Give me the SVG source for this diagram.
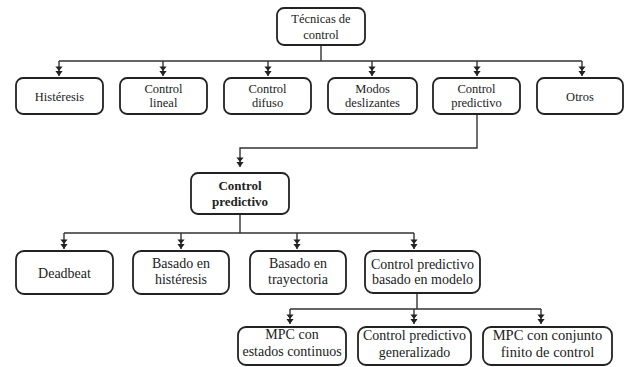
<svg xmlns="http://www.w3.org/2000/svg" width="626" height="367" viewBox="0 0 626 367">
<style>
.box{fill:#fff;stroke:#222;stroke-width:1.8}
.ln{fill:none;stroke:#333;stroke-width:1.4}
text{font-family:"Liberation Serif","DejaVu Serif",serif;fill:#222;text-anchor:middle}
.t1{font-size:12.5px}
.t2{font-size:13px;font-weight:bold}
.t3{font-size:14px}
.t4{font-size:14.5px}
</style>
<defs>
<marker id="ah" viewBox="-10 -5 11 10" refX="0" refY="0" markerWidth="11" markerHeight="10" markerUnits="userSpaceOnUse" orient="auto">
<path d="M-9.5,-3.6 L-5,0 L-9.5,3.6 Z M-5,-3.6 L0,0 L-5,3.6 Z" fill="#222"/>
</marker>
</defs>
<rect width="626" height="367" fill="#fff"/>
<g id="connectors">
<path class="ln" d="M321,45 V61 M59,61 H582"/>
<path class="ln" marker-end="url(#ah)" d="M59,61 V76"/>
<path class="ln" marker-end="url(#ah)" d="M163,61 V76"/>
<path class="ln" marker-end="url(#ah)" d="M268,61 V76"/>
<path class="ln" marker-end="url(#ah)" d="M372,61 V76"/>
<path class="ln" marker-end="url(#ah)" d="M477,61 V76"/>
<path class="ln" marker-end="url(#ah)" d="M582,61 V76"/>
<path class="ln" marker-end="url(#ah)" d="M477,114 V148 H240 V167"/>
<path class="ln" d="M240,214 V233 M64,233 H414"/>
<path class="ln" marker-end="url(#ah)" d="M64,233 V249"/>
<path class="ln" marker-end="url(#ah)" d="M181,233 V249"/>
<path class="ln" marker-end="url(#ah)" d="M297,233 V249"/>
<path class="ln" marker-end="url(#ah)" d="M414,233 V249"/>
<path class="ln" d="M417,293 V309 M290,309 H541"/>
<path class="ln" marker-end="url(#ah)" d="M290,309 V324"/>
<path class="ln" marker-end="url(#ah)" d="M414,309 V324"/>
<path class="ln" marker-end="url(#ah)" d="M541,309 V324"/>
</g>
<g id="root">
<rect class="box" x="277" y="8" width="88" height="37" rx="7"/>
<text class="t1" x="321" y="23">Técnicas de</text>
<text class="t1" x="321" y="39">control</text>
</g>
<g id="histeresis">
<rect class="box" x="16" y="78" width="87" height="36" rx="7"/>
<text class="t1" x="59.5" y="100.5">Histéresis</text>
</g>
<g id="control-lineal">
<rect class="box" x="120" y="78" width="87" height="36" rx="7"/>
<text class="t1" x="163.5" y="93">Control</text>
<text class="t1" x="163.5" y="107">lineal</text>
</g>
<g id="control-difuso">
<rect class="box" x="224" y="78" width="87" height="36" rx="7"/>
<text class="t1" x="267.5" y="93">Control</text>
<text class="t1" x="267.5" y="107">difuso</text>
</g>
<g id="modos-deslizantes">
<rect class="box" x="328" y="78" width="89" height="36" rx="7"/>
<text class="t1" x="372.5" y="93">Modos</text>
<text class="t1" x="372.5" y="107">deslizantes</text>
</g>
<g id="control-predictivo-1">
<rect class="box" x="433" y="78" width="87" height="36" rx="7"/>
<text class="t1" x="476.5" y="93">Control</text>
<text class="t1" x="476.5" y="107">predictivo</text>
</g>
<g id="otros">
<rect class="box" x="537" y="78" width="86" height="36" rx="7"/>
<text class="t1" x="580" y="100.5">Otros</text>
</g>
<g id="control-predictivo-2">
<rect class="box" x="191" y="173" width="98" height="41" rx="7"/>
<text class="t2" x="240" y="190">Control</text>
<text class="t2" x="240" y="206">predictivo</text>
</g>
<g id="deadbeat">
<rect class="box" x="16" y="251" width="97" height="43" rx="8"/>
<text class="t3" x="64.5" y="278">Deadbeat</text>
</g>
<g id="basado-histeresis">
<rect class="box" x="133" y="251" width="96" height="43" rx="8"/>
<text class="t3" x="181" y="268">Basado en</text>
<text class="t3" x="181" y="284">histéresis</text>
</g>
<g id="basado-trayectoria">
<rect class="box" x="250" y="251" width="96" height="43" rx="8"/>
<text class="t3" x="298" y="268">Basado en</text>
<text class="t3" x="298" y="284">trayectoria</text>
</g>
<g id="mpc">
<rect class="box" x="365" y="251" width="115" height="42" rx="8"/>
<text class="t3" x="422.5" y="269">Control predictivo</text>
<text class="t3" x="422.5" y="284">basado en modelo</text>
</g>
<g id="mpc-continuos">
<rect class="box" x="238" y="327" width="108" height="38" rx="8"/>
<text class="t3" x="292" y="339">MPC con</text>
<text class="t3" x="292" y="356">estados continuos</text>
</g>
<g id="control-generalizado">
<rect class="box" x="358" y="327" width="113" height="38" rx="8"/>
<text class="t3" x="414.5" y="340">Control predictivo</text>
<text class="t3" x="414.5" y="357">generalizado</text>
</g>
<g id="mpc-finito">
<rect class="box" x="483" y="327" width="129" height="38" rx="8"/>
<text class="t4" x="547.5" y="340">MPC con conjunto</text>
<text class="t4" x="547.5" y="357">finito de control</text>
</g>
</svg>
